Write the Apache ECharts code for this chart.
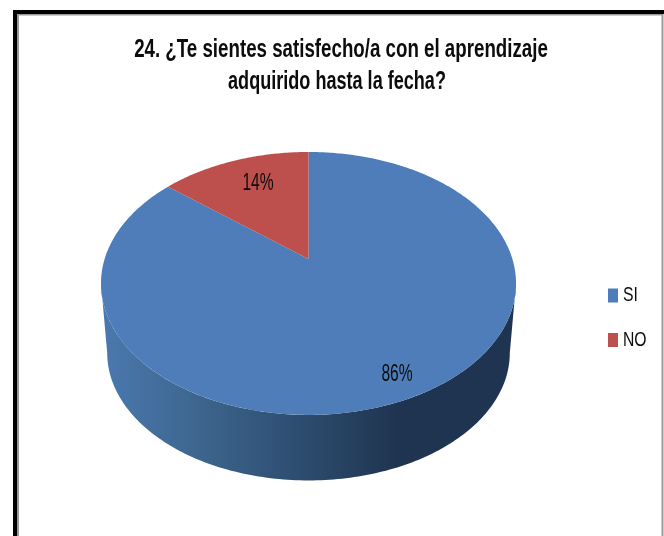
<!DOCTYPE html>
<html><head><meta charset="utf-8">
<style>html,body{margin:0;padding:0;background:#fff}#c{width:664px;height:536px}</style>
<script src="https://cdn.jsdelivr.net/npm/echarts@6/dist/echarts.min.js"></script>
</head><body><div id="c"></div>
<script>
const categories = ['SI', 'NO'];
const values = [86, 14];
const colors = ['#4e7db9', '#bd4f4c'];
const titleLines = ['24. ¿Te sientes satisfecho/a con el aprendizaje', 'adquirido hasta la fecha?'];

const total = values.reduce((a, b) => a + b, 0);
const cx = 308.5, apexY = 259, A = 203.9, B = 126.9, K = 0.186;
const rimCy = 283.5, depth = 69.5, shrink = 0.97;
const toXY = (rad, r) => {
  const u = Math.sin(rad) * r, v = Math.cos(rad) * r, d = 1 + K * v;
  return [cx + A * u / d, apexY - B * v / d];
};
const lowerRim = (rad) => {
  const p = toXY(rad, 1);
  return [cx + (p[0] - cx) * shrink, rimCy + depth + (p[1] - rimCy) * shrink];
};
const sideFill = { type: 'linear', x: 105, y: 0, x2: 512, y2: 0, global: true, colorStops: [
  { offset: 0, color: '#4a78ae' }, { offset: 0.2, color: '#3f6892' }, { offset: 0.45, color: '#2f5073' },
  { offset: 0.72, color: '#1f3450' }, { offset: 1, color: '#1f3450' } ] };
const tall = '"Liberation Sans"';
const textEl = (x, y, text, size, sx, weight, align) => ({
  type: 'text', x, y, scaleX: sx, silent: true,
  style: { text, fill: '#0c0c0c', font: (weight || 'normal') + ' ' + size + 'px ' + tall, align: align || 'center', verticalAlign: 'middle' }
});

function sliceItem(index) {
  return function () {
    const before = values.slice(0, index).reduce((a, b) => a + b, 0);
    const a0 = before / total * 2 * Math.PI, a1 = (before + values[index]) / total * 2 * Math.PI;
    const children = [];
    const edge = Math.asin(K);
    const f0 = Math.max(a0, Math.PI / 2 + edge), f1 = Math.min(a1, 3 * Math.PI / 2 - edge);
    if (f1 > f0) {
      const pts = [];
      for (let i = 0; i <= 160; i++) pts.push(toXY(f0 + (f1 - f0) * i / 160, 1));
      for (let i = 160; i >= 0; i--) pts.push(lowerRim(f0 + (f1 - f0) * i / 160));
      children.push({ type: 'polygon', shape: { points: pts }, style: { fill: sideFill } });
    }
    const top = [[cx, apexY]];
    const n = Math.max(8, Math.round((a1 - a0) * 80));
    for (let i = 0; i <= n; i++) top.push(toXY(a0 + (a1 - a0) * i / n, 1));
    children.push({ type: 'polygon', z2: 5, shape: { points: top }, style: { fill: colors[index] } });
    return { type: 'group', children };
  };
}
const labelPos = [[397, 374.5], [258, 183.5]];
const legendY = [295.5, 340];
const series = categories.map((name, i) => ({
  type: 'custom', name, coordinateSystem: 'none', z: i === 0 ? 2 : 3,
  itemStyle: { color: colors[i] }, data: [values[i]], renderItem: sliceItem(i), silent: true
}));
series.push({
  type: 'custom', name: 'labels', coordinateSystem: 'none', z: 6, silent: true, data: values,
  renderItem: (p, api) => textEl(labelPos[p.dataIndex][0], labelPos[p.dataIndex][1], api.value(0) + '%', 24, 0.65)
});
series.push({
  type: 'custom', name: 'legend', coordinateSystem: 'none', z: 6, silent: true, data: categories.map((c, i) => i),
  renderItem: (p) => ({ type: 'group', children: [
    { type: 'rect', shape: { x: 608, y: legendY[p.dataIndex] - 7, width: 10, height: 14 }, style: { fill: colors[p.dataIndex] } },
    textEl(623, legendY[p.dataIndex], categories[p.dataIndex], 21, 0.75, 'normal', 'left')
  ] })
});
const chart = echarts.init(document.getElementById('c'), null, { renderer: 'canvas' });
chart.setOption({
  animation: false,
  backgroundColor: '#fff',
  graphic: [
    { type: 'polyline', silent: true, z: 9, shape: { points: [[18, 536], [18, 14.5], [662.5, 14.5], [662.5, 536]] }, style: { stroke: '#999', lineWidth: 2, fill: null } },
    { type: 'polyline', silent: true, z: 10, shape: { points: [[15, 536], [15, 12], [664, 12]] }, style: { stroke: '#000', lineWidth: 4, fill: null } },
    textEl(341, 50, titleLines[0], 26, 0.72, 'bold'),
    textEl(337, 82, titleLines[1], 26, 0.695, 'bold')
  ],
  series
});
</script></body></html>
